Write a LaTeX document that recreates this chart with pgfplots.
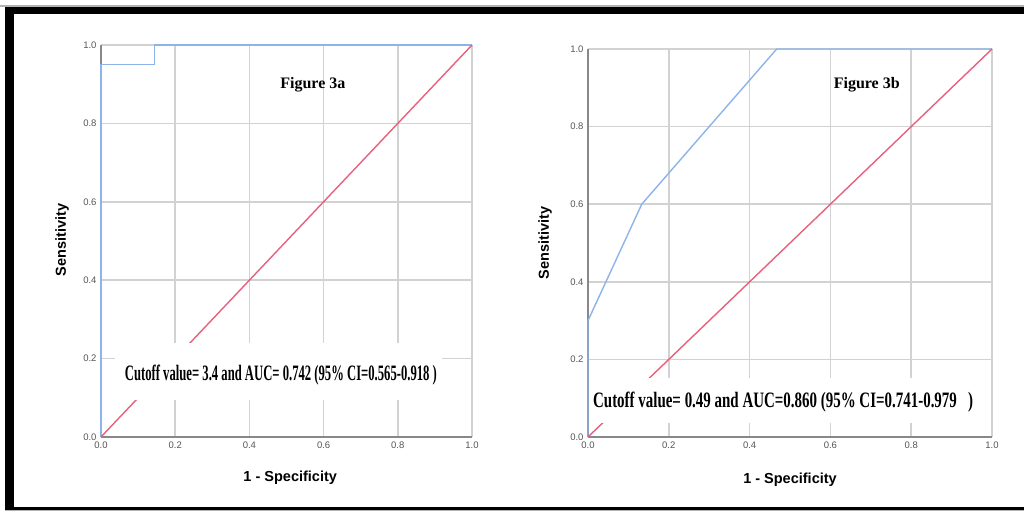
\documentclass[border=0pt]{standalone}
\usepackage{pgfplots}
\pgfplotsset{compat=1.18}
\usepackage{fontspec}
\setmainfont{Liberation Serif}
\setsansfont{Liberation Sans}
\definecolor{roc}{HTML}{8CB4E8}
\definecolor{refl}{HTML}{E8607E}
\definecolor{gridc}{HTML}{D2D2D2}
\definecolor{axl}{HTML}{888888}
\definecolor{tickc}{HTML}{555555}
\pgfplotsset{
  rocax/.style={
    set layers,
    clip=false,
    scale only axis,
    xmin=0, xmax=1, ymin=0, ymax=1,
    xtick={0,0.2,0.4,0.6,0.8,1}, ytick={0,0.2,0.4,0.6,0.8,1},
    xticklabels={0.0,0.2,0.4,0.6,0.8,1.0},
    yticklabels={0.0,0.2,0.4,0.6,0.8,1.0},
    grid=major,
    major grid style={draw=gridc, line width=1.5pt},
    axis x line*=bottom, axis y line*=left,
    axis line style={draw=axl, line width=1.5pt},
    major tick length=0pt,
    tick label style={font=\sffamily\fontsize{9.5}{10}\selectfont, text=tickc},
    xticklabel style={yshift=-1pt},
    yticklabel style={xshift=-1pt},
  }
}
\begin{document}
\begin{tikzpicture}
\path (0,0) rectangle (1024pt,512pt);

% Panel a
\begin{axis}[rocax, at={(101pt,75pt)}, anchor=south west, width=371pt, height=392pt]
\addplot[roc, line width=1.4pt] coordinates {(0,0) (0,0.95) (0.145,0.95) (0.145,1) (1,1)};
\addplot[refl, line width=1.4pt] coordinates {(0,0) (1,1)};
\node[fill=white, inner sep=0pt, minimum width=327pt, minimum height=57pt] at (axis cs:0.478,0.167) {};
\node[inner sep=0pt] at (axis cs:0.485,0.158) {\resizebox{312pt}{\height}{\fontsize{22}{22}\selectfont\bfseries Cutoff value= 3.4 and AUC= 0.742 (95\% CI=0.565-0.918 )}};
\node[inner sep=0pt, font=\fontsize{16}{16}\selectfont\bfseries] at (axis cs:0.571,0.898) {Figure 3a};
\node[rotate=90, font=\sffamily\bfseries\fontsize{14.5}{15}\selectfont] at (axis cs:-0.105,0.503) {Sensitivity};
\node[font=\sffamily\bfseries\fontsize{14.5}{15}\selectfont] at (axis cs:0.51,-0.105) {1 - Specificity};
\end{axis}

% Panel b
\begin{axis}[rocax, at={(588pt,75pt)}, anchor=south west, width=404pt, height=388pt]
\addplot[roc, line width=1.4pt] coordinates {(0,0) (0,0.3) (0.133,0.6) (0.467,1) (1,1)};
\addplot[refl, line width=1.4pt] coordinates {(0,0) (1,1)};
\node[fill=white, inner sep=0pt, minimum width=388pt, minimum height=45pt] at (axis cs:0.49,0.094) {};
\node[inner sep=0pt] at (axis cs:0.483,0.090) {\resizebox{380pt}{\height}{\fontsize{22}{22}\selectfont\bfseries Cutoff value= 0.49 and AUC=0.860 (95\% CI=0.741-0.979 \ \ )}};
\node[inner sep=0pt, font=\fontsize{16}{16}\selectfont\bfseries] at (axis cs:0.69,0.907) {Figure 3b};
\node[rotate=90, font=\sffamily\bfseries\fontsize{14.5}{15}\selectfont] at (axis cs:-0.106,0.5) {Sensitivity};
\node[font=\sffamily\bfseries\fontsize{14.5}{15}\selectfont] at (axis cs:0.5,-0.111) {1 - Specificity};
\end{axis}

\fill[black!30] (0,505pt) rectangle (1024pt,506.5pt);
\fill[black] (5pt,497.5pt) rectangle (1024pt,505pt);
\fill[black] (5pt,2.5pt) rectangle (14pt,505pt);
\fill[black] (5pt,2.5pt) rectangle (1024pt,5.5pt);
\fill[black!30] (5pt,1.5pt) rectangle (1024pt,2.5pt);
\end{tikzpicture}
\end{document}
